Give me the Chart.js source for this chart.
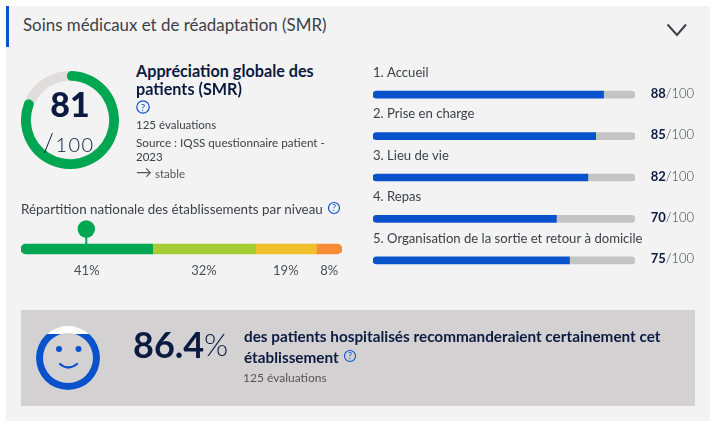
<!DOCTYPE html>
<html lang="fr">
<head>
<meta charset="utf-8">
<title>Soins médicaux et de réadaptation (SMR)</title>
<script src="https://cdn.jsdelivr.net/npm/chart.js@4/dist/chart.umd.min.js"></script>
<style>
  html, body { margin: 0; padding: 0; background: #fff; }
  body { width: 720px; height: 429px; position: relative; overflow: hidden; font-family: Lato, sans-serif; color: #3c4148; }
  .panel { position: absolute; left: 6px; top: 6px; width: 704px; height: 415px; background: #f3f3f3; }
  .strip { position: absolute; left: 6px; top: 6px; width: 3px; height: 41px; background: #0a52cc; }
  .box { position: absolute; left: 21px; top: 310px; width: 674px; height: 96px; background: #d3d1d2; }
  .t { position: absolute; white-space: nowrap; line-height: 1; }
  .b { font-weight: 700; color: #0b1b3f; }
  canvas { position: absolute; }
  .ic { position: absolute; }
  #smileClip { position: absolute; left: 36px; top: 326px; width: 64px; height: 64px; overflow: hidden; }
</style>
</head>
<body>
<div class="panel"></div>
<div class="strip"></div>
<div class="box"></div>

<div class="t" style="left:23px;top:17px;font-size:16.9px;">Soins médicaux et de réadaptation (SMR)</div>
<svg class="ic" style="left:660px;top:18px" width="34" height="24"><polyline points="7.5,6.5 17,17 26,6.5" fill="none" stroke="#3c4148" stroke-width="2"/></svg>

<canvas id="scoreTrack" width="98" height="98" style="left:21px;top:71px"></canvas>
<canvas id="scoreRing" width="98" height="98" style="left:21px;top:71px"></canvas>
<div class="t b" id="scoreText" style="left:20px;width:100px;text-align:center;top:87px;font-size:34px;font-weight:900;"></div>
<div class="t" style="left:43px;top:130px;font-size:20px;font-weight:300;letter-spacing:1.5px;color:#0b1b3f;"><span style="font-size:25px;">/</span>100</div>

<div class="t b" style="left:136px;top:63px;font-size:16.2px;">Appréciation globale des</div>
<div class="t b" style="left:136px;top:81px;font-size:16.2px;">patients (SMR)</div>
<svg class="ic" style="left:136px;top:100px" width="14" height="14"><circle cx="7" cy="7" r="6.2" fill="none" stroke="#0a52cc" stroke-width="1.2"/><text x="7" y="10.5" text-anchor="middle" font-size="10" fill="#0a52cc" font-family="Lato">?</text></svg>
<div class="t" style="left:136px;top:119px;font-size:11.5px;">125 évaluations</div>
<div class="t" style="left:136px;top:137px;font-size:11.7px;">Source : IQSS questionnaire patient -</div>
<div class="t" style="left:136px;top:151px;font-size:11.5px;">2023</div>
<div class="t" style="left:136px;top:166px;font-size:11.5px;color:#555;"><span style="font-size:16px;line-height:12px;">→</span> stable</div>

<div class="t" style="left:21px;top:203px;font-size:13.4px;">Répartition nationale des établissements par niveau</div>
<svg class="ic" style="left:327px;top:201px" width="14" height="14"><circle cx="7" cy="7" r="5.5" fill="none" stroke="#0a52cc" stroke-width="1.2"/><text x="7" y="10.2" text-anchor="middle" font-size="9" fill="#0a52cc" font-family="Lato">?</text></svg>
<canvas id="repartition" width="321" height="64" style="left:21px;top:218px"></canvas>

<canvas id="themes" width="335" height="227" style="left:365px;top:54px"></canvas>

<canvas id="smileTrack" width="64" height="64" style="left:36px;top:326px"></canvas>
<div id="smileClip"><canvas id="smileRing" width="64" height="64" style="left:0;top:0"></canvas></div>
<svg class="ic" style="left:36px;top:326px" width="64" height="64">
  <circle cx="23" cy="23" r="3" fill="#0a52cc"/><circle cx="42.5" cy="23" r="3" fill="#0a52cc"/>
  <path d="M24 38 Q32 45 41 38" fill="none" stroke="#0a52cc" stroke-width="2.2" stroke-linecap="round"/>
</svg>
<div class="t b" id="recoText" style="left:133px;top:326px;font-size:36px;"></div>
<div class="t" style="left:204px;top:329px;font-size:31px;font-weight:300;color:#0b1b3f;">%</div>
<div class="t b" style="left:244px;top:329px;font-size:15.3px;">des patients hospitalisés recommanderaient certainement cet</div>
<div class="t b" style="left:244px;top:350px;font-size:15.3px;">établissement</div>
<svg class="ic" style="left:343px;top:349px" width="14" height="14"><circle cx="7" cy="7" r="5.5" fill="none" stroke="#0a52cc" stroke-width="1.1"/><text x="7" y="10.2" text-anchor="middle" font-size="9" fill="#0a52cc" font-family="Lato">?</text></svg>
<div class="t" style="left:243px;top:372px;font-size:12px;color:#555;">125 évaluations</div>

<script>
var globalScore = 81;
var scoreMax = 100;
var recommendation = 86.4;

var levelShares = [41, 32, 19, 8];
var levelColors = ["#00a651", "#a4cc33", "#f0c02c", "#f88b38"];
var establishmentLevel = 0;

var themeLabels = ["1. Accueil", "2. Prise en charge", "3. Lieu de vie", "4. Repas", "5. Organisation de la sortie et retour à domicile"];
var themeScores = [88, 85, 82, 70, 75];

Chart.defaults.animation = false;
Chart.defaults.responsive = false;
Chart.defaults.maintainAspectRatio = false;
Chart.defaults.font.family = "Lato";
Chart.defaults.plugins.legend.display = false;
Chart.defaults.plugins.tooltip.enabled = false;

function ring(id, data, colors, cutout, radius, rotation, circumference) {
  return new Chart(id, {
    type: "doughnut",
    data: {datasets: [{data: data, backgroundColor: colors, borderWidth: 0, borderRadius: radius}]},
    options: {cutout: cutout, rotation: rotation, circumference: circumference}
  });
}

document.getElementById("scoreText").textContent = globalScore;
document.getElementById("recoText").textContent = recommendation;

// gray track under the green arc, the arc is a bit longer because of its round caps
ring("scoreTrack", [scoreMax], ["#e0dddd"], "80%", 0, 0, 360);
ring("scoreRing", [globalScore, scoreMax - globalScore], ["#00a651", "rgba(0,0,0,0)"], "80%", 5, -4, 372);

// smiley: ring filled like a gauge, cut flat at the level of the value
ring("smileTrack", [scoreMax], ["#ffffff"], "78%", 0, 0, 360);
ring("smileRing", [scoreMax], ["#0a52cc"], "78%", 0, 0, 360);
var clip = document.getElementById("smileClip");
clip.style.clipPath = "inset(" + (100 - recommendation) + "% 0 0 0)";

var pinPlugin = {
  id: "pin",
  afterDatasetsDraw: function (chart) {
    var ctx = chart.ctx;
    var before = 0;
    for (var i = 0; i < establishmentLevel; i++) before += levelShares[i];
    var x = chart.scales.x.getPixelForValue(before + levelShares[establishmentLevel] / 2) - 0.5;
    var barTop = chart.getDatasetMeta(0).data[0].y - 5;
    ctx.save();
    ctx.fillStyle = levelColors[establishmentLevel];
    ctx.fillRect(x - 1, barTop - 8, 2, 8);
    ctx.beginPath();
    ctx.arc(x, barTop - 15, 8.7, 0, Math.PI * 2);
    ctx.fill();
    ctx.restore();
  }
};

var levelTicks = [];
var running = 0;
for (var i = 0; i < levelShares.length; i++) {
  levelTicks.push(running + levelShares[i] / 2);
  running += levelShares[i];
}

new Chart("repartition", {
  type: "bar",
  plugins: [pinPlugin],
  data: {
    labels: [""],
    datasets: levelShares.map(function (v, i) {
      var r = {topLeft: 0, bottomLeft: 0, topRight: 0, bottomRight: 0};
      if (i == 0) { r.topLeft = 5; r.bottomLeft = 5; }
      if (i == levelShares.length - 1) { r.topRight = 5; r.bottomRight = 5; }
      return {data: [v], backgroundColor: levelColors[i], barThickness: 10, borderRadius: r, borderSkipped: false};
    })
  },
  options: {
    indexAxis: "y",
    layout: {padding: {top: 20}},
    scales: {
      y: {stacked: true, display: false},
      x: {
        stacked: true, min: 0, max: 100,
        grid: {display: false, drawTicks: false}, border: {display: false},
        afterFit: function (axis) { axis.height = 22; },
        afterBuildTicks: function (axis) { axis.ticks = levelTicks.map(function (v) { return {value: v}; }); },
        ticks: {
          autoSkip: false, maxRotation: 0, padding: 3, color: "#4a4f57", font: {size: 13},
          callback: function (v) { return levelShares[levelTicks.indexOf(v)] + "%"; }
        }
      }
    }
  }
});

var themeLabelPlugin = {
  id: "themeText",
  afterDatasetsDraw: function (chart) {
    var ctx = chart.ctx;
    var bars = chart.getDatasetMeta(0).data;
    ctx.save();
    ctx.textBaseline = "middle";
    for (var i = 0; i < bars.length; i++) {
      var y = bars[i].y;
      ctx.textAlign = "left";
      ctx.fillStyle = "#3c4148";
      ctx.font = "13.1px Lato";
      ctx.fillText(themeLabels[i], chart.chartArea.left, y - 22);
      ctx.textAlign = "right";
      ctx.fillStyle = "#3c4148";
      ctx.font = "300 13px Lato";
      ctx.fillText("/100", 329, y - 1);
      var w = ctx.measureText("/100").width;
      ctx.fillStyle = "#0b1b3f";
      ctx.font = "700 13px Lato";
      ctx.fillText(themeScores[i], 329 - w, y - 1);
    }
    ctx.restore();
  }
};

new Chart("themes", {
  type: "bar",
  plugins: [themeLabelPlugin],
  data: {
    labels: themeLabels,
    datasets: [
      {data: themeScores, backgroundColor: "#0a52cc", barThickness: 7, borderSkipped: false,
       borderRadius: {topLeft: 3.5, bottomLeft: 3.5, topRight: 0, bottomRight: 0}},
      {data: themeScores.map(function (v) { return scoreMax - v; }), backgroundColor: "#c4c4c4", barThickness: 7, borderSkipped: false,
       borderRadius: {topLeft: 0, bottomLeft: 0, topRight: 3.5, bottomRight: 3.5}}
    ]
  },
  options: {
    indexAxis: "y",
    layout: {padding: {top: 20, left: 8, right: 65, bottom: 0}},
    scales: {
      x: {stacked: true, display: false, min: 0, max: scoreMax},
      y: {stacked: true, display: false}
    }
  }
});
</script>
</body>
</html>
